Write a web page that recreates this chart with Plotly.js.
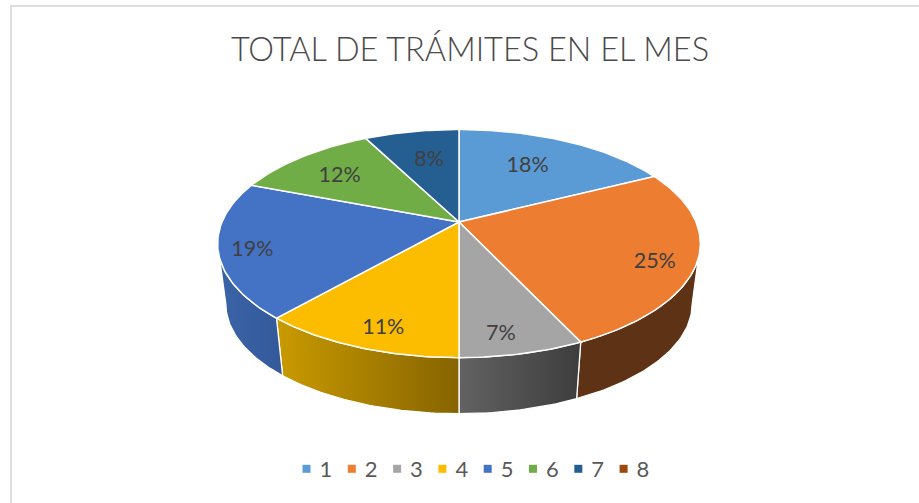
<!DOCTYPE html>
<html><head><meta charset="utf-8">
<script src="https://cdn.plot.ly/plotly-3.0.1.min.js"></script>
<style>html,body{margin:0;padding:0;background:#fff}#c{width:919px;height:503px}</style></head>
<body><div id="c"></div>
<script>
const categories = ['1','2','3','4','5','6','7','8'];
const shares = [17.6, 25.4, 7.0, 11.49, 19.31, 11.6, 7.6, 0];
const topColors = ['#5B9BD5','#ED7D31','#A5A5A5','#FCBD00','#4472C4','#70AD47','#255E91','#9E480E'];
const wallFrom = ['#3f6d95','#5e3214','#626262','#c99a00','#3a64a8','#4f7a32','#1a4266','#6e320a'];
const wallTo   = ['#3f6d95','#5e3214','#3d3d3d','#866400','#34599a','#4f7a32','#1a4266','#6e320a'];
const titleText = 'TOTAL DE TRÁMITES EN EL MES';

// projection of the tilted disc (perspective)
const cx = 459, persp = 0.189;
const topRing = {ax:237, by:110, oy:222};
const lowRing = {ax:229, by:106, oy:283};
const silhouette = Math.acos(-persp)*180/Math.PI;   // where the rim turns away from the viewer
const labelDy = 2.5;
function project(ring, deg, fx, fy){
  const t = deg*Math.PI/180, X = Math.sin(t), Y = Math.cos(t), d = 1 + persp*Y;
  return [cx + ring.ax*X/d*(fx===undefined?1:fx), ring.oy - ring.by*Y/d*(fy===undefined?1:fy)];
}
function arc(ring, a0, a1){
  const pts = [], n = Math.max(2, Math.ceil(Math.abs(a1-a0)));
  for(let i=0;i<=n;i++) pts.push(project(ring, a0+(a1-a0)*i/n));
  return pts;
}
const total = shares.reduce((a,b)=>a+b,0);
let run = 0;
const slices = shares.map((v,i)=>{const a0=run/total*360; run+=v; return {i,v,a0,a1:run/total*360};});

const traces = [];
// walls: only the part of each slice's rim that faces the viewer
slices.forEach(s=>{
  const a0 = Math.max(s.a0, silhouette), a1 = Math.min(s.a1, 360-silhouette);
  if(a1 <= a0) return;
  const pts = arc(topRing,a0,a1).concat(arc(lowRing,a0,a1).reverse());
  pts.push(pts[0]);
  traces.push({type:'scatter',mode:'lines',x:pts.map(p=>p[0]),y:pts.map(p=>p[1]),fill:'toself',
    fillgradient:{type:'horizontal',colorscale:[[0,wallFrom[s.i]],[1,wallTo[s.i]]]},
    line:{color:'#ffffff',width:1.3},showlegend:false,hoverinfo:'skip'});
});
// top faces
slices.forEach(s=>{
  if(!s.v) return;
  const pts = [[cx,topRing.oy]].concat(arc(topRing,s.a0,s.a1)); pts.push(pts[0]);
  traces.push({type:'scatter',mode:'lines',x:pts.map(p=>p[0]),y:pts.map(p=>p[1]),fill:'toself',
    fillcolor:topColors[s.i],line:{color:'#ffffff',width:1.5},showlegend:false,hoverinfo:'skip'});
});
// percentage labels: radial factors in the projected disc
const labelFactors = [[.64,.72],[.82,1.0],[.66,.84],[.745,.83],[.857,.94],[.76,.73],[.63,.71]];
const lab = slices.filter(s=>s.v).map(s=>project(topRing,(s.a0+s.a1)/2,labelFactors[s.i][0],labelFactors[s.i][1]));
traces.push({type:'scatter',mode:'text',x:lab.map(p=>p[0]),y:lab.map(p=>p[1]+labelDy),
  text:slices.filter(s=>s.v).map(s=>Math.round(s.v/total*100)+'%'),textposition:'middle center',
  textfont:{family:'Lato, "Open Sans", sans-serif',size:21.5,color:'#404040'},showlegend:false,hoverinfo:'skip'});
// legend entries
categories.forEach((c,i)=>traces.push({type:'scatter',mode:'markers',x:[null],y:[null],name:c,
  marker:{symbol:'square',size:8,color:topColors[i]},showlegend:true,hoverinfo:'skip'}));

const layout = {
  width:919,height:503,margin:{l:0,r:0,t:0,b:0},paper_bgcolor:'#fff',plot_bgcolor:'#fff',
  xaxis:{range:[0,919],visible:false,fixedrange:true},
  yaxis:{range:[503,0],visible:false,fixedrange:true},
  title:{text:titleText,x:470/919,xanchor:'center',y:1-50/503,yanchor:'middle',
    font:{family:'Lato, "Open Sans", sans-serif',size:32.5,weight:300,color:'#4a4a4a'}},
  legend:{orientation:'h',x:461/919,xanchor:'center',y:1-469/503,yanchor:'middle',
    entrywidth:0.3,entrywidthmode:'pixels',traceorder:'normal',
    font:{family:'Lato, "Open Sans", sans-serif',size:22,color:'#595959'},bgcolor:'rgba(0,0,0,0)'},
  shapes:[{type:'path',path:'M 11 503 L 11 6 L 919 6',xref:'x',yref:'y',line:{color:'#dedede',width:2},layer:'below'}]
};
Plotly.newPlot('c',traces,layout,{displayModeBar:false,staticPlot:true}).then(()=>{
  document.querySelectorAll('.legend .legendpoints').forEach(g=>g.setAttribute('transform','translate(7,0)'));
  document.querySelectorAll('.legend .scrollbox, .legend').forEach(g=>g.removeAttribute('clip-path'));
  document.querySelectorAll('.legend .legendtoggle').forEach(g=>g.style.pointerEvents='none');
});
</script></body></html>
